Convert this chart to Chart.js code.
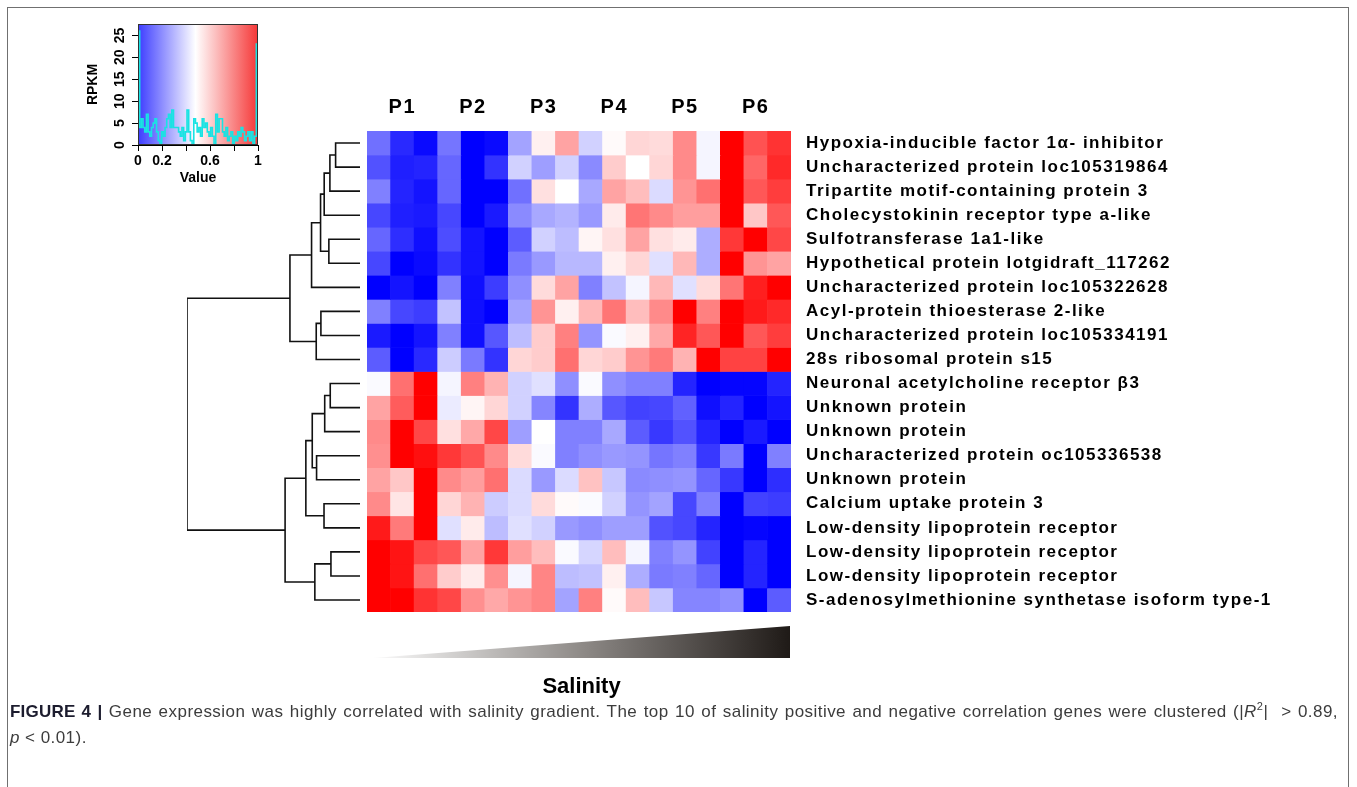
<!DOCTYPE html>
<html>
<head>
<meta charset="utf-8">
<script src="https://cdn.jsdelivr.net/npm/chart.js@4.4.1/dist/chart.umd.min.js"></script>
<style>
  html, body { margin: 0; padding: 0; background: #fff; }
  body { width: 1357px; height: 787px; position: relative; overflow: hidden; font-family: "Liberation Sans", Arial, sans-serif; }
  .frame { position: absolute; left: 7px; top: 7px; width: 1340px; height: 820px; border: 1px solid #707070; border-bottom: none; }
  canvas { position: absolute; }
  .caption { position: absolute; left: 10px; top: 699px; width: 1328px; font-family: "Liberation Sans", Arial, sans-serif; font-size: 17px; letter-spacing: 0.45px; line-height: 26px; color: #3c3c3c; }
  .caption .l1 { text-align: justify; text-align-last: justify; }
  .caption b { color: #1c1c2e; letter-spacing: 0.2px; }
</style>
</head>
<body>
<div class="frame"></div>
<canvas id="key" width="188" height="181"></canvas>
<canvas id="dendro" width="181" height="489"></canvas>
<canvas id="heat" width="969" height="521"></canvas>
<canvas id="salinity" width="417" height="76"></canvas>
<div class="caption">
  <div class="l1"><b>FIGURE 4 |</b> Gene expression was highly correlated with salinity gradient. The top 10 of salinity positive and negative correlation genes were clustered (|<i>R</i><sup style="font-size:11px;line-height:0">2</sup>| &nbsp;&gt; 0.89,</div>
  <div><i>p</i> &lt; 0.01).</div>
</div>
<script>
// columns (3 samples per salinity level) and row genes
const groups = ['P1', 'P2', 'P3', 'P4', 'P5', 'P6'];
const columns = ['P1a', 'P1b', 'P1c', 'P2a', 'P2b', 'P2c', 'P3a', 'P3b', 'P3c',
                 'P4a', 'P4b', 'P4c', 'P5a', 'P5b', 'P5c', 'P6a', 'P6b', 'P6c'];
const genes = [
  'Hypoxia-inducible factor 1α- inhibitor',
  'Uncharacterized protein loc105319864',
  'Tripartite motif-containing protein 3',
  'Cholecystokinin receptor type a-like',
  'Sulfotransferase 1a1-like',
  'Hypothetical protein lotgidraft_117262',
  'Uncharacterized protein loc105322628',
  'Acyl-protein thioesterase 2-like',
  'Uncharacterized protein loc105334191',
  '28s ribosomal protein s15',
  'Neuronal acetylcholine receptor β3',
  'Unknown protein',
  'Unknown protein',
  'Uncharacterized protein oc105336538',
  'Unknown protein',
  'Calcium uptake protein 3',
  'Low-density lipoprotein receptor',
  'Low-density lipoprotein receptor',
  'Low-density lipoprotein receptor',
  'S-adenosylmethionine synthetase isoform type-1'
];

// scaled expression (0 = blue, 0.5 = white, 1 = red), one array per gene row
const r01 = [0.22, 0.08, 0.02, 0.23, 0, 0.02, 0.32, 0.53, 0.68, 0.41, 0.51, 0.58, 0.57, 0.73, 0.48, 1, 0.84, 0.9];
const r02 = [0.16, 0.06, 0.07, 0.2, 0, 0.1, 0.41, 0.31, 0.41, 0.27, 0.6, 0.5, 0.58, 0.73, 0.48, 1, 0.8, 0.92];
const r03 = [0.25, 0.07, 0.04, 0.2, 0, 0, 0.22, 0.56, 0.5, 0.33, 0.68, 0.63, 0.43, 0.71, 0.78, 1, 0.83, 0.88];
const r04 = [0.14, 0.06, 0.05, 0.14, 0, 0.05, 0.27, 0.33, 0.35, 0.3, 0.54, 0.77, 0.73, 0.69, 0.69, 1, 0.61, 0.83];
const r05 = [0.2, 0.09, 0.03, 0.15, 0.04, 0, 0.18, 0.41, 0.37, 0.52, 0.56, 0.68, 0.56, 0.54, 0.34, 0.89, 1, 0.86];
const r06 = [0.14, 0, 0.02, 0.1, 0.04, 0, 0.24, 0.3, 0.36, 0.36, 0.53, 0.58, 0.44, 0.64, 0.34, 1, 0.71, 0.68];
const r07 = [0, 0.04, 0, 0.25, 0.03, 0.12, 0.28, 0.57, 0.68, 0.25, 0.38, 0.48, 0.64, 0.44, 0.57, 0.77, 0.94, 1];
const r08 = [0.25, 0.14, 0.12, 0.38, 0.03, 0, 0.32, 0.71, 0.53, 0.64, 0.77, 0.63, 0.73, 1, 0.75, 1, 0.95, 0.92];
const r09 = [0.05, 0, 0.04, 0.25, 0.03, 0.17, 0.37, 0.6, 0.75, 0.29, 0.49, 0.53, 0.67, 0.93, 0.83, 1, 0.83, 0.88];
const r10 = [0.18, 0, 0.08, 0.4, 0.24, 0.1, 0.58, 0.6, 0.78, 0.58, 0.6, 0.71, 0.76, 0.65, 1, 0.87, 0.87, 1];
const r11 = [0.49, 0.78, 1, 0.48, 0.75, 0.65, 0.41, 0.44, 0.28, 0.49, 0.28, 0.25, 0.25, 0.07, 0, 0.01, 0.01, 0.07];
const r12 = [0.68, 0.82, 1, 0.46, 0.52, 0.58, 0.41, 0.26, 0.1, 0.34, 0.17, 0.13, 0.14, 0.19, 0.03, 0.07, 0, 0.04];
const r13 = [0.73, 1, 0.86, 0.56, 0.67, 0.86, 0.31, 0.5, 0.25, 0.25, 0.33, 0.18, 0.11, 0.16, 0.07, 0, 0.05, 0];
const r14 = [0.72, 1, 0.97, 0.89, 0.84, 0.73, 0.57, 0.49, 0.25, 0.28, 0.3, 0.29, 0.23, 0.25, 0.11, 0.24, 0, 0.25];
const r15 = [0.68, 0.61, 1, 0.73, 0.69, 0.78, 0.43, 0.3, 0.43, 0.62, 0.39, 0.27, 0.28, 0.29, 0.2, 0.11, 0, 0.09];
const r16 = [0.73, 0.55, 1, 0.58, 0.65, 0.4, 0.43, 0.57, 0.51, 0.49, 0.41, 0.29, 0.32, 0.14, 0.25, 0, 0.13, 0.12];
const r17 = [0.95, 0.76, 1, 0.44, 0.54, 0.37, 0.44, 0.41, 0.3, 0.28, 0.31, 0.31, 0.16, 0.14, 0.07, 0, 0.01, 0];
const r18 = [1, 0.96, 0.86, 0.83, 0.68, 0.89, 0.69, 0.63, 0.49, 0.42, 0.63, 0.48, 0.25, 0.29, 0.13, 0, 0.07, 0];
const r19 = [1, 0.96, 0.78, 0.6, 0.54, 0.72, 0.48, 0.74, 0.37, 0.38, 0.53, 0.34, 0.24, 0.25, 0.2, 0, 0.07, 0];
const r20 = [1, 1, 0.9, 0.86, 0.72, 0.67, 0.71, 0.74, 0.32, 0.75, 0.51, 0.63, 0.39, 0.26, 0.26, 0.28, 0, 0.18];
const matrix = [r01, r02, r03, r04, r05, r06, r07, r08, r09, r10,
                r11, r12, r13, r14, r15, r16, r17, r18, r19, r20];

// row dendrogram: merge pairs (leaves 0-19, merged nodes from 20 up) and their heights
const merges = [[0, 1], [20, 2], [21, 3], [4, 5], [22, 23], [24, 6], [7, 8], [26, 9], [25, 27],
                [10, 11], [29, 12], [13, 14], [30, 31], [15, 16], [32, 33], [17, 18], [35, 19], [34, 36],
                [28, 37]];
const mergeHeights = [1.41, 1.74, 2.07, 1.80, 2.28, 2.80, 2.26, 2.53, 4.05,
                      1.72, 2.04, 2.51, 2.76, 2.08, 3.13, 1.68, 2.61, 4.33,
                      10];

// colour key histogram (counts per bin over value 0..1)
const histCounts = [26, 4, 6, 4, 3, 7, 3, 2, 4, 5, 6, 3, 1, 0, 3, 2, 4, 6, 7, 4, 8, 4, 4, 4, 3, 2, 4, 1, 3, 8,
                    3, 1, 0, 6, 5, 3, 4, 2, 6, 4, 5, 3, 2, 4, 2, 0, 7, 3, 6, 6, 3, 2, 4, 1, 2, 3, 0, 2, 1, 3,
                    2, 4, 3, 1, 2, 3, 1, 3, 0, 2, 23];
const keyXTicks = [0, 0.2, 0.4, 0.6, 0.8, 1];
const keyXLabels = ['0', '0.2', '', '0.6', '', '1'];
const keyYTicks = [0, 5, 10, 15, 20, 25];

// salinity ramp under the columns
const salinity = [0, 1];

const FONT = '"Liberation Sans", Arial, sans-serif';

function heatColor(v) {
  if (v <= 0.5) {
    const t = Math.round(255 * v / 0.5);
    return `rgb(${t},${t},255)`;
  }
  const t = Math.round(255 * (1 - v) / 0.5);
  return `rgb(255,${t},${t})`;
}

function pin(chart, left, top) {
  const a = chart.chartArea;
  chart.canvas.style.left = (left - a.left) + 'px';
  chart.canvas.style.top = (top - a.top) + 'px';
}

const base = {
  responsive: false,
  animation: false,
  events: [],
  plugins: { legend: { display: false }, tooltip: { enabled: false } }
};

// the row labels in the figure are set with wide tracking
const spacedLabels = {
  id: 'spacedLabels',
  beforeDraw(chart) { chart.ctx.letterSpacing = '1.5px'; },
  afterDraw(chart) { chart.ctx.letterSpacing = '0px'; }
};

// ---- heatmap ----
const heat = new Chart(document.getElementById('heat'), {
  type: 'bar',
  data: {
    labels: columns,
    datasets: matrix.map((row, i) => ({
      label: genes[i],
      data: row.map(() => 1),
      backgroundColor: row.map(heatColor),
      borderWidth: 0,
      barPercentage: 1,
      categoryPercentage: 1
    }))
  },
  options: {
    ...base,
    layout: { padding: 0 },
    scales: {
      x: { stacked: true, display: false },
      y: { stacked: true, display: false, min: 0, max: genes.length, reverse: true },
      groups: {
        type: 'category', labels: groups, position: 'top', offset: true,
        grid: { display: false, drawTicks: false }, border: { display: false },
        ticks: { padding: 12, color: '#000', font: { family: FONT, size: 20, weight: 'bold' } },
        afterFit: s => { s.height = 40; s.paddingLeft = 0; s.paddingRight = 0; }
      },
      genes: {
        type: 'category', labels: genes, position: 'right', offset: true,
        grid: { display: false, drawTicks: false }, border: { display: false },
        ticks: { padding: 15, autoSkip: false, color: '#000', font: { family: FONT, size: 17, weight: 'bold' } },
        afterFit: s => { s.width = 545; s.paddingTop = 0; s.paddingBottom = 0; }
      }
    }
  },
  plugins: [spacedLabels]
});
pin(heat, 367, 131);

// ---- dendrogram ----
const nodeY = genes.map((g, i) => i);
const nodeH = genes.map(() => 0);
const dendroSets = merges.map(([a, b], k) => {
  const h = mergeHeights[k];
  nodeY.push((nodeY[a] + nodeY[b]) / 2);
  nodeH.push(h);
  return {
    data: [{ x: nodeH[a], y: nodeY[a] }, { x: h, y: nodeY[a] }, { x: h, y: nodeY[b] }, { x: nodeH[b], y: nodeY[b] }],
    showLine: true, borderColor: '#111', borderWidth: 1.6, pointRadius: 0, tension: 0, fill: false
  };
});
const dendro = new Chart(document.getElementById('dendro'), {
  type: 'scatter',
  data: { datasets: dendroSets },
  options: {
    ...base,
    layout: { padding: 4 },
    scales: {
      x: { type: 'linear', display: false, min: 0, max: 10, reverse: true },
      y: { type: 'linear', display: false, min: -0.5, max: genes.length - 0.5, reverse: true }
    }
  }
});
pin(dendro, 187, 131);

// ---- colour key ----
const keyPts = [{ x: 0, y: 0 }];
histCounts.forEach((c, i) => keyPts.push({ x: i / histCounts.length, y: c }));
keyPts.push({ x: 1, y: histCounts[histCounts.length - 1] });
keyPts.push({ x: 1, y: 0 });

const keyBackground = {
  id: 'keyBackground',
  beforeDatasetsDraw(chart) {
    const { ctx, chartArea: a, scales } = chart;
    const g = ctx.createLinearGradient(scales.x.getPixelForValue(0), 0, scales.x.getPixelForValue(1), 0);
    g.addColorStop(0, 'rgb(60,60,255)');
    g.addColorStop(0.48, '#ffffff');
    g.addColorStop(1, 'rgb(245,55,55)');
    ctx.save();
    ctx.fillStyle = g;
    ctx.fillRect(a.left, a.top, a.right - a.left, a.bottom - a.top);
    ctx.restore();
  },
  afterDraw(chart) {
    const { ctx, chartArea: a } = chart;
    ctx.save();
    ctx.strokeStyle = '#333';
    ctx.lineWidth = 1;
    ctx.strokeRect(a.left + 0.5, a.top + 0.5, a.right - a.left - 1, a.bottom - a.top - 1);
    ctx.restore();
  }
};

const key = new Chart(document.getElementById('key'), {
  type: 'scatter',
  data: {
    datasets: [{
      data: keyPts, showLine: true, stepped: true,
      borderColor: '#19e3e3', borderWidth: 1.6, pointRadius: 0, fill: false
    }]
  },
  options: {
    ...base,
    layout: { padding: { top: 10, right: 10, left: 0, bottom: 0 } },
    scales: {
      x: {
        type: 'linear', min: 0, max: 1,
        afterBuildTicks: s => { s.ticks = keyXTicks.map(v => ({ value: v })); },
        ticks: { padding: 2, color: '#000', maxRotation: 0, autoSkip: false,
                 font: { family: FONT, size: 14, weight: 'bold' },
                 callback: (v, i) => keyXLabels[i] },
        grid: { drawOnChartArea: false, drawTicks: true, tickLength: 6, color: '#000' },
        border: { display: true, color: '#000' },
        title: { display: true, text: 'Value', color: '#000', padding: { top: 0, bottom: 8 },
                 font: { family: FONT, size: 14, weight: 'bold' } },
        afterFit: s => { s.height = 50; s.paddingLeft = 0; s.paddingRight = 0; }
      },
      y: {
        type: 'linear', min: 0, max: 27.6,
        afterBuildTicks: s => { s.ticks = keyYTicks.map(v => ({ value: v })); },
        ticks: { padding: 4, color: '#000', minRotation: 90, maxRotation: 90, crossAlign: 'center',
                 font: { family: FONT, size: 14, weight: 'bold' } },
        grid: { drawOnChartArea: false, drawTicks: true, tickLength: 6, color: '#000' },
        border: { display: true, color: '#000' },
        title: { display: true, text: 'RPKM', color: '#000', padding: { top: 5, bottom: 0 },
                 font: { family: FONT, size: 14, weight: 'bold' } },
        afterFit: s => { s.width = 58; s.paddingTop = 0; s.paddingBottom = 0; }
      }
    }
  },
  plugins: [keyBackground]
});
pin(key, 138, 24);

// ---- salinity wedge ----
const sal = new Chart(document.getElementById('salinity'), {
  type: 'scatter',
  data: {
    datasets: [{
      data: salinity.map((v, i) => ({ x: i / (salinity.length - 1), y: v })),
      showLine: true, borderWidth: 0, pointRadius: 0, fill: 'start',
      backgroundColor: ctx => {
        const a = ctx.chart.chartArea;
        if (!a) return '#888';
        const g = ctx.chart.ctx.createLinearGradient(a.left, 0, a.right, 0);
        g.addColorStop(0, '#fbfbfb');
        g.addColorStop(0.5, '#8e8a87');
        g.addColorStop(1, '#1f1a17');
        return g;
      }
    }]
  },
  options: {
    ...base,
    layout: { padding: 0 },
    scales: {
      x: {
        type: 'linear', min: 0, max: 1,
        ticks: { display: false }, grid: { display: false, drawTicks: false }, border: { display: false },
        title: { display: true, text: 'Salinity', color: '#000', padding: { top: 16, bottom: 2 },
                 font: { family: FONT, size: 22, weight: 'bold' } },
        afterFit: s => { s.height = 44; }
      },
      y: { type: 'linear', display: false, min: 0, max: 1 }
    }
  }
});
pin(sal, 373, 626);
</script>
</body>
</html>
